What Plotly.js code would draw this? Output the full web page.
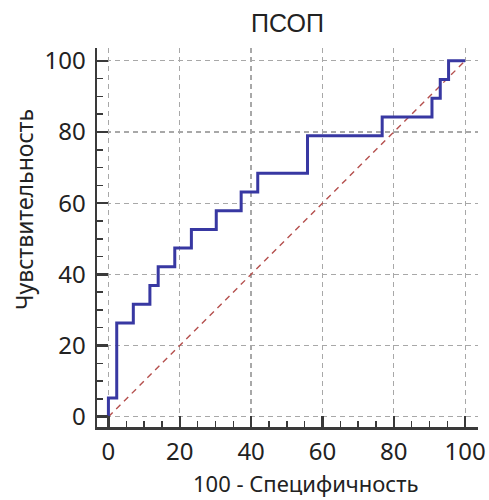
<!DOCTYPE html>
<html>
<head>
<meta charset="utf-8">
<script src="https://cdn.plot.ly/plotly-3.0.1.min.js"></script>
<style>html,body{margin:0;padding:0;background:#fff;}#chart{width:489px;height:500px;}</style>
</head>
<body>
<div id="chart"></div>
<script>
// ROC curve data (100 - specificity, sensitivity), step vertices
const fpr = [0, 2.33, 6.98, 11.63, 13.95, 18.60, 23.26, 30.23, 37.21, 41.86, 55.81, 76.74, 90.70, 93.02, 95.35, 100];
const tpr = [0, 5.26, 26.32, 31.58, 36.84, 42.11, 47.37, 52.63, 57.89, 63.16, 68.42, 78.95, 84.21, 89.47, 94.74, 100];
// reference (chance) line
const refX = [0, 100];
const refY = [0, 100];
const tickVals = [0, 20, 40, 60, 80, 100];
const titleText = 'ПСОП';
const xTitle = '100 - Специфичность';
const yTitle = 'Чувствительность';

const tickFont = {family: 'Noto Sans, Open Sans, sans-serif', size: 24, color: '#222'};
const axisCommon = {
  showline: true, linecolor: '#3a3a3a', linewidth: 2.5, mirror: false,
  showgrid: true, gridcolor: '#a8a8a8', gridwidth: 1.3, griddash: '5px,4px',
  zeroline: false,
  tickmode: 'array', tickvals: tickVals, ticktext: tickVals.map(String),
  ticks: 'inside', ticklen: 11, tickwidth: 2.5, tickcolor: '#3a3a3a',
  minor: {dtick: 5, ticks: 'inside', ticklen: 6, tickwidth: 1.5, tickcolor: '#3a3a3a', showgrid: false},
  tickfont: tickFont
};

const data = [
  {x: refX, y: refY, type: 'scatter', mode: 'lines',
   line: {color: '#b5504e', width: 1.4, dash: '6px,5px'}, hoverinfo: 'skip', showlegend: false},
  {x: fpr, y: tpr, type: 'scatter', mode: 'lines',
   line: {color: '#3838a2', width: 3, shape: 'vh'}, showlegend: false}
];

const layout = {
  width: 489, height: 500,
  margin: {l: 97, r: 11, t: 48, b: 73},
  paper_bgcolor: '#fff', plot_bgcolor: '#fff',
  title: {text: titleText, font: {family: 'Liberation Sans, Arial, sans-serif', size: 25, color: '#222'},
          xref: 'paper', x: 0.5, xanchor: 'center', yref: 'container', y: 1 - 23/500, yanchor: 'middle'},
  xaxis: Object.assign({}, axisCommon, {range: [-3.2, 103.6], ticklabelstandoff: 2}),
  yaxis: Object.assign({}, axisCommon, {range: [-2.9, 103.6], ticklabelstandoff: 4}),
  annotations: [
    {text: xTitle, xref: 'paper', yref: 'paper', x: 0.546, y: -0.147, xanchor: 'center', yanchor: 'middle',
     showarrow: false, font: {family: 'Noto Sans, Open Sans, sans-serif', size: 22, color: '#222'}},
    {text: yTitle, xref: 'paper', yref: 'paper', x: -0.1916, y: 0.5726, xanchor: 'center', yanchor: 'middle',
     textangle: -90, showarrow: false, font: {family: 'Noto Sans, Open Sans, sans-serif', size: 23, color: '#222'}}
  ]
};

Plotly.newPlot('chart', data, layout, {displayModeBar: false, staticPlot: true});
</script>
</body>
</html>
